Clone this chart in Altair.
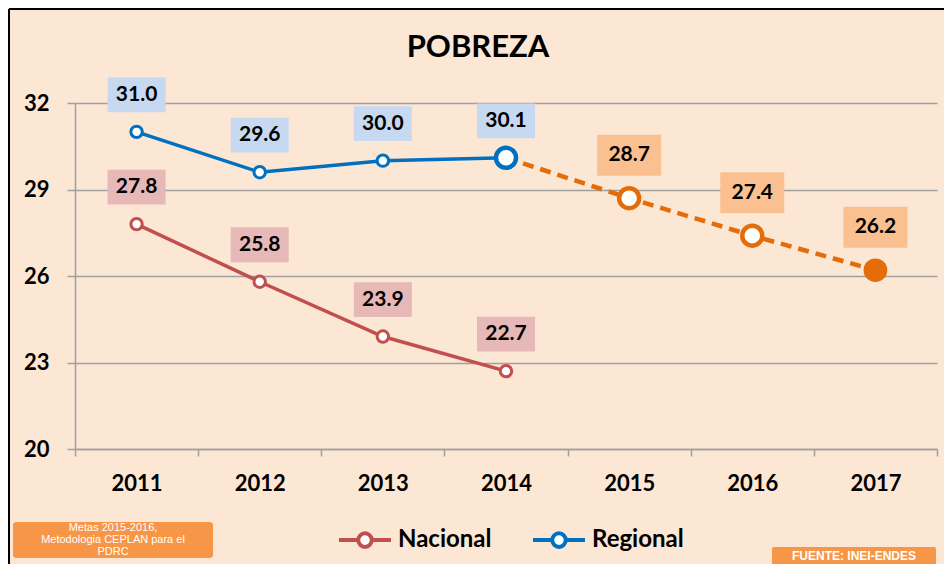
import altair as alt
import pandas as pd

# ---------------- data ----------------
years = ["2011", "2012", "2013", "2014", "2015", "2016", "2017"]
obs_years = ["2011", "2012", "2013", "2014"]
nacional = [27.8, 25.8, 23.9, 22.7]
regional = [31.0, 29.6, 30.0, 30.1]
meta_years = ["2014", "2015", "2016", "2017"]
meta = [30.1, 28.7, 27.4, 26.2]
y_ticks = [20, 23, 26, 29, 32]
series = ["Nacional", "Regional", "Meta"]
series_colors = ["#c0504d", "#0070c0", "#e46c0a"]
box_colors = ["#e6b9b8", "#c6d9f1"]
title_text = "POBREZA"
note_left = ["Metas 2015-2016,", "Metodologia CEPLAN para el", "PDRC"]
note_right = "FUENTE: INEI-ENDES"

obs = pd.DataFrame({
    "year": obs_years * 2,
    "value": nacional + regional,
    "serie": ["Nacional"] * len(obs_years) + ["Regional"] * len(obs_years),
})
meta_df = pd.DataFrame({"year": meta_years, "value": meta, "serie": ["Meta"] * len(meta_years)})
one = pd.DataFrame({"k": [0]})

FONT = "Lato"
GRAY = "#a0a0a0"

color_scale = alt.Scale(domain=series, range=series_colors)

X = alt.X(
    "year:N",
    bandPosition=0.5,
    scale=alt.Scale(type="band", domain=years, paddingInner=0, paddingOuter=0),
    axis=alt.Axis(
        title=None, labelAngle=0, tickBand="extent", grid=False,
        domainColor=GRAY, domainWidth=1.5, tickColor=GRAY, tickWidth=1.5, tickSize=7,
        labelFont=FONT, labelFontSize=22, labelFontWeight="bold", labelColor="black",
        labelPadding=17,
    ),
)
Y = alt.Y(
    "value:Q",
    scale=alt.Scale(domain=[20, 32], nice=False, zero=False),
    axis=alt.Axis(
        title=None, values=y_ticks, grid=True, gridColor=GRAY, gridWidth=1.5,
        domainColor=GRAY, domainWidth=1.5, tickColor=GRAY, tickWidth=1.5, tickSize=8,
        labelFont=FONT, labelFontSize=22, labelFontWeight="bold", labelColor="black",
        labelPadding=18,
    ),
)

legend_symbol = ("M-1,0L-0.26,0M0.26,0L1,0"
                 "M-0.26,0A0.26,0.26 0 1,0 0.26,0A0.26,0.26 0 1,0 -0.26,0Z")

lines_obs = alt.Chart(obs).mark_line(strokeWidth=3.5).encode(
    x=X, y=Y,
    color=alt.Color(
        "serie:N", scale=color_scale,
        legend=alt.Legend(
            title=None, orient="none", legendX=262, legendY=409, direction="horizontal",
            values=["Nacional", "Regional"], symbolType=legend_symbol, symbolSize=2704,
            symbolStrokeWidth=4, symbolFillColor="white",
            labelFont=FONT, labelFontSize=24, labelFontWeight="bold", labelColor="black",
            labelOffset=5, columnPadding=33, labelLimit=300,
        ),
    ),
)

line_meta = alt.Chart(meta_df).mark_line(
    strokeWidth=4.5, strokeDash=[11, 7], color=series_colors[2]
).encode(x=X, y=Y)

points_obs = alt.Chart(obs).mark_point(
    filled=True, fill="white", size=130, strokeWidth=3, opacity=1
).encode(
    x=X, y=Y,
    stroke=alt.Stroke("serie:N", scale=color_scale, legend=None),
)

points_meta_open = alt.Chart(meta_df).transform_filter(
    alt.datum.year != "2017"
).mark_point(filled=True, fill="white", size=400, strokeWidth=4.5, opacity=1).encode(
    x=X, y=Y,
    stroke=alt.condition(alt.datum.year == "2014",
                         alt.value(series_colors[1]), alt.value(series_colors[2])),
)

points_meta_full = alt.Chart(meta_df).transform_filter(
    alt.datum.year == "2017"
).mark_point(filled=True, size=560, opacity=1, color=series_colors[2]).encode(x=X, y=Y)

rect_obs = "M-1,-0.6L1,-0.6L1,0.6L-1,0.6Z"
rect_meta = "M-1,-0.64L1,-0.64L1,0.64L-1,0.64Z"

boxes_obs = alt.Chart(obs).mark_point(
    shape=rect_obs, filled=True, size=3364, opacity=1, strokeWidth=0, yOffset=-37
).encode(
    x=X, y=Y,
    fill=alt.Fill("serie:N", scale=alt.Scale(domain=["Nacional", "Regional"], range=box_colors),
                  legend=None),
)
text_obs = alt.Chart(obs).mark_text(
    font=FONT, fontSize=21, fontWeight="bold", color="black", baseline="middle", yOffset=-37
).encode(x=X, y=Y, text=alt.Text("value:Q", format=".1f"))

boxes_meta = alt.Chart(meta_df).transform_filter(alt.datum.year != "2014").mark_point(
    shape=rect_meta, filled=True, size=4096, opacity=1, strokeWidth=0,
    color="#fac090", yOffset=-43
).encode(x=X, y=Y)
text_meta = alt.Chart(meta_df).transform_filter(alt.datum.year != "2014").mark_text(
    font=FONT, fontSize=21, fontWeight="bold", color="black", baseline="middle", yOffset=-43
).encode(x=X, y=Y, text=alt.Text("value:Q", format=".1f"))

# ---------------- decorations ----------------
title = alt.Chart(one).mark_text(
    font=FONT, fontSize=31, fontWeight="bold", color="black", align="center", baseline="middle"
).encode(x=alt.value(403), y=alt.value(-55), text=alt.value(title_text))

note_l_box = alt.Chart(one).mark_rect(color="#f79646", cornerRadius=3).encode(
    x=alt.value(-62), x2=alt.value(138), y=alt.value(419), y2=alt.value(455))
note_l_text = alt.Chart(one).mark_text(
    font="Liberation Sans", fontSize=11, color="white", align="center",
    baseline="middle", lineHeight=12
).encode(x=alt.value(38), y=alt.value(425), text=alt.value(note_left))

note_r_box = alt.Chart(one).mark_rect(color="#f79646", cornerRadius=2).encode(
    x=alt.value(697), x2=alt.value(861), y=alt.value(444), y2=alt.value(462))
note_r_text = alt.Chart(one).mark_text(
    font="Liberation Sans", fontSize=12, fontWeight="bold", color="white",
    align="center", baseline="middle"
).encode(x=alt.value(779), y=alt.value(453), text=alt.value(note_right))

border_l = alt.Chart(one).mark_rule(color="black", strokeWidth=2).encode(
    x=alt.value(-66), y=alt.value(-94), y2=alt.value(461))
border_t = alt.Chart(one).mark_rule(color="black", strokeWidth=2).encode(
    x=alt.value(-66), x2=alt.value(869), y=alt.value(-94))

chart = alt.layer(
    lines_obs, line_meta, boxes_obs, text_obs, boxes_meta, text_meta,
    points_obs, points_meta_open, points_meta_full,
    title, note_l_box, note_l_text, note_r_box, note_r_text, border_l, border_t,
).properties(
    width=862, height=346,
    padding={"left": 67, "top": 95, "right": 7, "bottom": 115},
    autosize="none",
    background="#fce6d4",
).configure_view(stroke=None)

chart.save("out.html", embed_options={"renderer": "svg", "actions": False})
